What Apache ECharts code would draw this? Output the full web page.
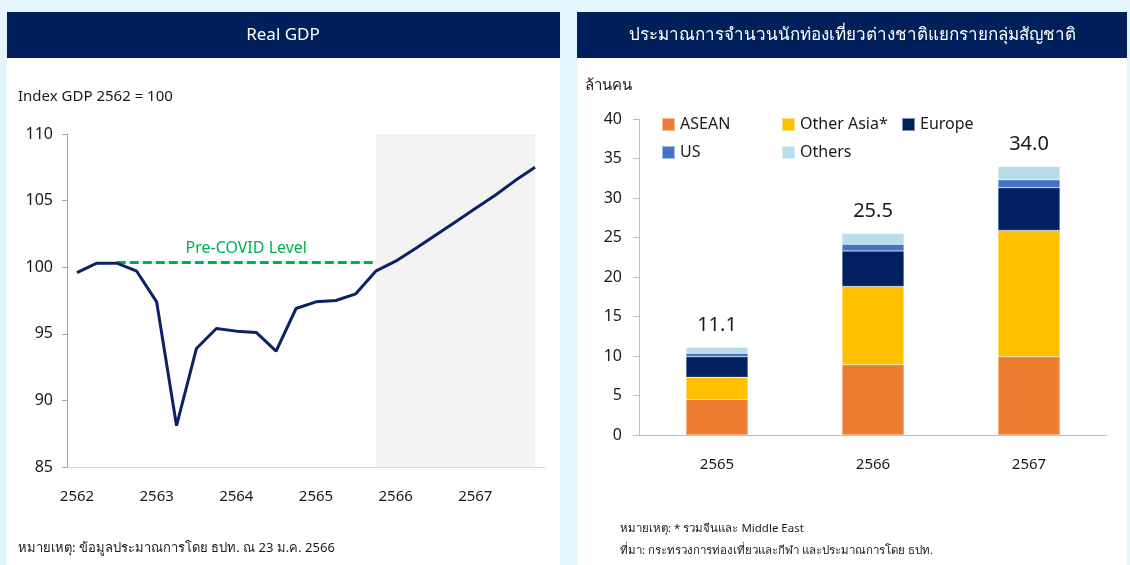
<!DOCTYPE html>
<html>
<head>
<meta charset="utf-8">
<script src="https://cdn.jsdelivr.net/npm/echarts@6/dist/echarts.min.js"></script>
<style>
    html, body { margin: 0; padding: 0; background: #E5F5FD; }
    #main { width: 1130px; height: 565px; }
</style>
</head>
<body>
<div id="main"></div>
<script>
// ข้อมูล Real GDP รายไตรมาส (2562Q1 - 2567Q4)
const quarters = [
    '2562Q1', '2562Q2', '2562Q3', '2562Q4',
    '2563Q1', '2563Q2', '2563Q3', '2563Q4',
    '2564Q1', '2564Q2', '2564Q3', '2564Q4',
    '2565Q1', '2565Q2', '2565Q3', '2565Q4',
    '2566Q1', '2566Q2', '2566Q3', '2566Q4',
    '2567Q1', '2567Q2', '2567Q3', '2567Q4'
];
const gdpIndex = [
    99.6, 100.3, 100.3, 99.7, 97.4, 88.1, 93.9, 95.4,
    95.2, 95.1, 93.7, 96.9, 97.4, 97.5, 98.0, 99.7,
    100.45, 101.4, 102.4, 103.4, 104.4, 105.4, 106.5, 107.5
];
const preCovidLevel = 100.35;
const gdpTicks = [85, 90, 95, 100, 105, 110];

// นักท่องเที่ยวต่างชาติ (ล้านคน)
const years = ['2565', '2566', '2567'];
const asean = [4.5, 8.9, 9.9];
const otherAsia = [2.8, 9.9, 16.0];
const europe = [2.6, 4.5, 5.4];
const us = [0.45, 0.85, 1.0];
const others = [0.75, 1.35, 1.7];
const totals = [11.1, 25.5, 34.0];
const touristTicks = [0, 5, 10, 15, 20, 25, 30, 35, 40];

const FONT = '"Noto Sans", "DejaVu Sans", sans-serif';
const NAVY = '#00205B';
const TXT = '#1a1a1a';

let dom = document.getElementById('main');
let myChart = echarts.init(dom, null, {renderer: 'canvas'});

function stackSeries(name, data, color) {
    return {
        name: name,
        type: 'bar',
        stack: 'total',
        xAxisIndex: 1,
        yAxisIndex: 1,
        barWidth: 62,
        itemStyle: {color: color, borderColor: 'rgba(255,255,255,0.5)', borderWidth: 0.5},
        data: data
    };
}

const option = {
    backgroundColor: '#E5F5FD',
    animation: false,
    textStyle: {fontFamily: FONT},
    graphic: [
        // panels
        {type: 'rect', shape: {x: 7, y: 12, width: 553, height: 553}, style: {fill: '#fff'}, z: -10},
        {type: 'rect', shape: {x: 577, y: 12, width: 550, height: 553}, style: {fill: '#fff'}, z: -10},
        {type: 'rect', shape: {x: 7, y: 12, width: 553, height: 46}, style: {fill: NAVY}, z: -9},
        {type: 'rect', shape: {x: 577, y: 12, width: 550, height: 46}, style: {fill: NAVY}, z: -9},
        {type: 'text', x: 283, y: 35, style: {text: 'Real GDP', fill: '#fff', font: '17px ' + FONT, align: 'center', verticalAlign: 'middle'}},
        {type: 'text', x: 852, y: 35, style: {text: 'ประมาณการจำนวนนักท่องเที่ยวต่างชาติแยกรายกลุ่มสัญชาติ', fill: '#fff', font: '17px ' + FONT, align: 'center', verticalAlign: 'middle'}},
        {type: 'text', x: 18, y: 97, style: {text: 'Index GDP 2562 = 100', fill: TXT, font: '15px ' + FONT, verticalAlign: 'middle'}},
        {type: 'text', x: 585, y: 86, style: {text: 'ล้านคน', fill: TXT, font: '15px ' + FONT, verticalAlign: 'middle'}},
        {type: 'text', x: 18, y: 548, style: {text: 'หมายเหตุ: ข้อมูลประมาณการโดย ธปท. ณ 23 ม.ค. 2566', fill: TXT, font: '13px ' + FONT, verticalAlign: 'middle'}},
        {type: 'text', x: 620, y: 529, style: {text: 'หมายเหตุ: * รวมจีนและ Middle East', fill: TXT, font: '11.5px ' + FONT, verticalAlign: 'middle'}},
        {type: 'text', x: 620, y: 551, style: {text: 'ที่มา: กระทรวงการท่องเที่ยวและกีฬา และประมาณการโดย ธปท.', fill: TXT, font: '11.5px ' + FONT, verticalAlign: 'middle'}}
    ],
    legend: {
        left: 656,
        top: 108,
        width: 360,
        itemWidth: 13,
        itemHeight: 13,
        itemGap: 5,
        icon: 'rect',
        formatter: '{a|{name}}',
        textStyle: {
            fontSize: 16, color: TXT, fontFamily: FONT,
            rich: {a: {width: 96, height: 23, lineHeight: 23, fontSize: 16, color: TXT}}
        },
        data: ['ASEAN', 'Other Asia*', 'Europe', 'US', 'Others']
    },
    grid: [
        {left: 67, right: 585, top: 134, bottom: 98},
        {left: 639, right: 23, top: 119, bottom: 130}
    ],
    xAxis: [
        {
            type: 'category',
            gridIndex: 0,
            data: quarters,
            boundaryGap: true,
            axisLine: {lineStyle: {color: '#d9d9d9', width: 1}},
            axisTick: {interval: 3, length: 6, lineStyle: {color: '#d9d9d9'}},
            axisLabel: {
                interval: 3, margin: 22, fontSize: 15, color: TXT,
                formatter: function (val) { return val.slice(0, 4); }
            }
        },
        {
            type: 'category',
            gridIndex: 1,
            data: years,
            axisLine: {lineStyle: {color: '#bfbfbf'}},
            axisTick: {length: 6, lineStyle: {color: '#bfbfbf'}},
            axisLabel: {margin: 22, fontSize: 15, color: TXT}
        }
    ],
    yAxis: [
        {
            type: 'value',
            gridIndex: 0,
            min: gdpTicks[0],
            max: gdpTicks[gdpTicks.length - 1],
            interval: 5,
            axisLine: {show: true, lineStyle: {color: '#a6a6a6'}},
            axisTick: {show: true, length: 5, lineStyle: {color: '#a6a6a6'}},
            axisLabel: {margin: 14, fontSize: 16, color: TXT},
            splitLine: {show: false}
        },
        {
            type: 'value',
            gridIndex: 1,
            min: touristTicks[0],
            max: touristTicks[touristTicks.length - 1],
            interval: 5,
            axisLine: {show: true, lineStyle: {color: '#bfbfbf'}},
            axisTick: {show: true, length: 6, lineStyle: {color: '#bfbfbf'}},
            axisLabel: {margin: 17, fontSize: 16, color: TXT},
            splitLine: {show: false}
        }
    ],
    series: [
        {
            name: 'Real GDP',
            type: 'line',
            xAxisIndex: 0,
            yAxisIndex: 0,
            data: gdpIndex,
            symbol: 'none',
            lineStyle: {color: '#0B2265', width: 3},
            markArea: {
                silent: true,
                itemStyle: {color: '#F3F3F3'},
                data: [[
                    {xAxis: quarters[15], yAxis: gdpTicks[gdpTicks.length - 1]},
                    {xAxis: quarters[23], yAxis: gdpTicks[0]}
                ]]
            },
            markLine: {
                silent: true,
                symbol: 'none',
                lineStyle: {color: '#00B050', type: [9, 4], width: 3},
                label: {
                    show: true,
                    position: 'middle',
                    formatter: 'Pre-COVID Level',
                    color: '#00B050',
                    fontSize: 16,
                    distance: 6,
                    fontFamily: FONT
                },
                data: [[
                    {coord: [quarters[2], preCovidLevel]},
                    {coord: [quarters[15], preCovidLevel]}
                ]]
            },
            z: 5
        },
        stackSeries('ASEAN', asean, '#ED7D31'),
        stackSeries('Other Asia*', otherAsia, '#FFC000'),
        stackSeries('Europe', europe, '#002060'),
        stackSeries('US', us, '#4472C4'),
        Object.assign(stackSeries('Others', others, '#B7DEE8'), {
            label: {
                show: true,
                position: 'top',
                distance: 12,
                fontSize: 20,
                color: TXT,
                fontFamily: FONT,
                formatter: function (p) { return totals[p.dataIndex].toFixed(1); }
            }
        })
    ]
};
myChart.setOption(option, true);
</script>
</body>
</html>
